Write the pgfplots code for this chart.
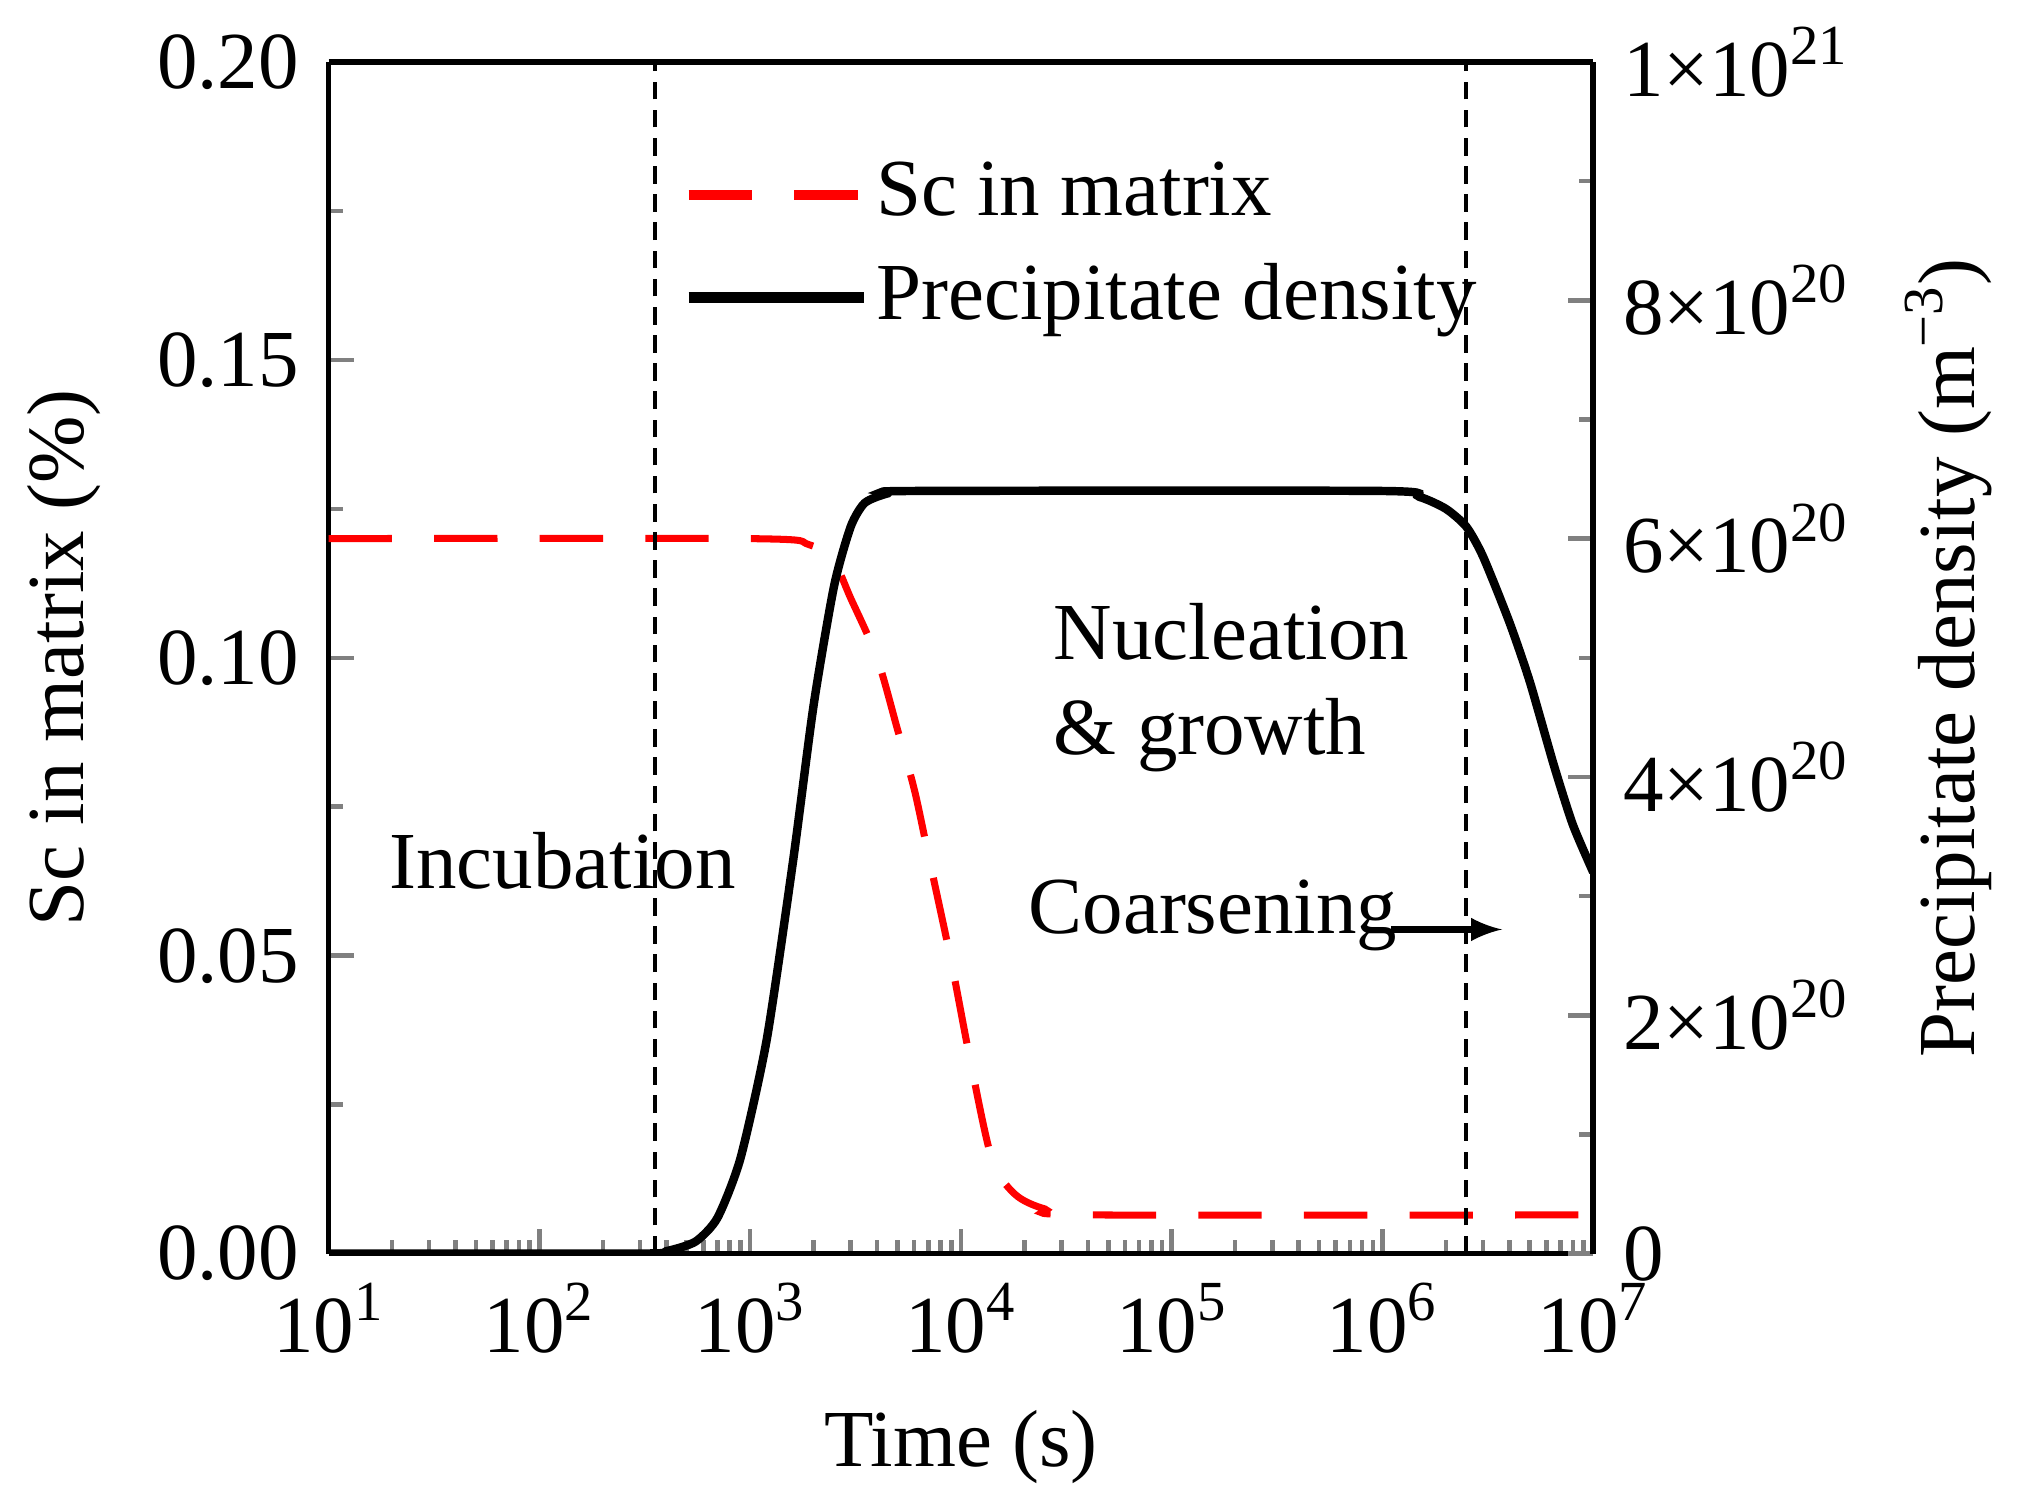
\documentclass[border=0pt]{standalone}
\usepackage{pgfplots}
\pgfplotsset{compat=1.18}
\usepackage{fontspec}
\setmainfont{Liberation Serif}
\newcommand{\sps}[1]{\textsuperscript{#1}}
\begin{document}
\fontsize{23}{27}\selectfont
\begin{tikzpicture}
\pgfplotsset{every axis/.append style={width=12.63cm,height=11.9cm,scale only axis,
  line width=1.6pt, tick style={line width=1.3pt}, major tick length=0.25cm, minor tick length=0.14cm,
  tick align=inside, font=\fontsize{23}{27}\selectfont}}
\begin{axis}[xmode=log, xmin=10, xmax=1e7, ymin=0, ymax=0.2,
  axis y line*=left, axis x line*=bottom,
  xtick={10,100,1000,1e4,1e5,1e6,1e7},
  xticklabels={10\sps{1},10\sps{2},10\sps{3},10\sps{4},10\sps{5},10\sps{6},10\sps{7}},
  ytick={0,0.05,0.1,0.15,0.2}, yticklabels={0.00,0.05,0.10,0.15,0.20},
  minor ytick={0.025,0.075,0.125,0.175},
  xlabel={Time (s)}, ylabel={Sc in matrix (\%)}]
\addplot[red, line width=2pt, smooth, dash pattern=on 18pt off 12pt] coordinates {
(10,0.12)(1000,0.12)(1900,0.119)(2500,0.116)(3000,0.11)(4000,0.1)(5000,0.088)(6000,0.078)(7000,0.067)(9000,0.049)(11000,0.033)(14000,0.016)(18000,0.010)(25000,0.0075)(40000,0.0065)(1e7,0.0065)};
\draw[black, line width=1.2pt, dash pattern=on 5pt off 3pt] (axis cs:355,0) -- (axis cs:355,0.2);
\draw[black, line width=1.2pt, dash pattern=on 5pt off 3pt] (axis cs:2.5e6,0) -- (axis cs:2.5e6,0.2);
\node at (rel axis cs:0.185,0.33) {Incubation};
\node[anchor=west, align=left] at (rel axis cs:0.55,0.475) {Nucleation\\\& growth};
\node[anchor=west] at (rel axis cs:0.53,0.284) {Coarsening};
\draw[-latex, line width=2pt] (rel axis cs:0.84,0.272) -- (rel axis cs:0.928,0.272);
\end{axis}
\begin{axis}[xmode=log, xmin=10, xmax=1e7, ymin=0, ymax=10,
  axis y line*=right, axis x line*=top, xtick=\empty, xticklabels={},
  ytick={0,2,4,6,8,10}, yticklabels={0,2×10\sps{20},4×10\sps{20},6×10\sps{20},8×10\sps{20},1×10\sps{21}},
  minor ytick={1,3,5,7,9},
  ylabel={Precipitate density (m\sps{−3})},
  legend style={draw=none, fill=none, at={(rel axis cs:0.27,0.93)}, anchor=north west, row sep=6pt},
  legend cell align=left, legend image post style={line width=3pt},
  legend image code/.code={\draw[#1] (0cm,0cm) -- (1.75cm,0cm);}]
\addlegendimage{red, dash pattern=on 18pt off 12pt}
\addlegendentry{Sc in matrix}
\addplot[black, line width=2.4pt, smooth, tension=0.4] coordinates {
(10,0)(300,0)(400,0.02)(550,0.1)(700,0.3)(900,0.8)(1200,1.8)(1600,3.3)(2000,4.6)(2500,5.6)(3000,6.1)(3500,6.3)(4500,6.38)(6000,6.4)(1e6,6.4)(1.5e6,6.35)(2e6,6.25)(2.5e6,6.1)(3e6,5.85)(4e6,5.3)(5e6,4.8)(6.5e6,4.1)(8e6,3.6)(1e7,3.2)};
\addlegendentry{Precipitate density}
\end{axis}
\end{tikzpicture}
\end{document}
